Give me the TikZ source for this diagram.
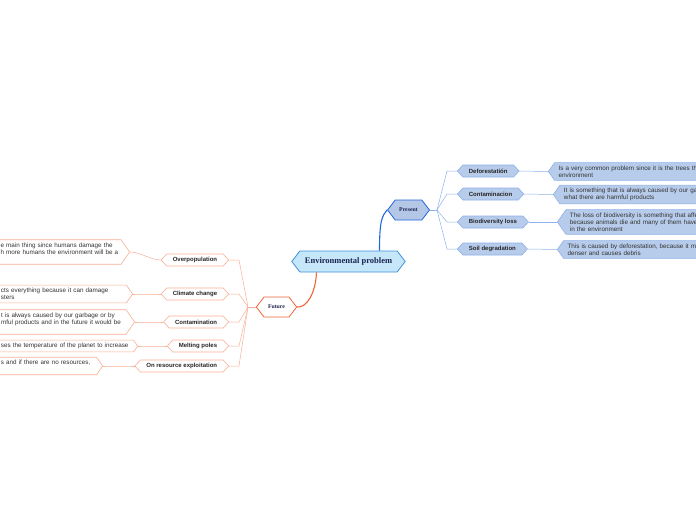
\documentclass[tikz,border=0pt]{standalone}
\usepackage{fontspec}
\setmainfont{Liberation Sans}
\newfontfamily\headfont{Liberation Serif}
\usetikzlibrary{shapes.symbols}

\definecolor{cenfill}{HTML}{C6E7FA}
\definecolor{cenline}{HTML}{3F8FDA}
\definecolor{centext}{HTML}{1B2550}
\definecolor{prefill}{HTML}{B4C7E7}
\definecolor{preline}{HTML}{2266DD}
\definecolor{chfill}{HTML}{B7CBEA}
\definecolor{chline}{HTML}{8DB1EA}
\definecolor{futline}{HTML}{F0643C}
\definecolor{fcline}{HTML}{F9AF95}

\begin{document}
\begin{tikzpicture}[x=1pt,y=-1pt,
  hexa/.style={shape=signal,signal to=east and west,draw},
  maintopic/.style={hexa,signal pointer angle=105,fill=cenfill,draw=cenline,line width=0.8pt,
    minimum height=21,inner xsep=5,inner ysep=0,text=centext,
    font=\headfont\fontsize{8.5}{10}\selectfont\bfseries},
  branch/.style={hexa,signal pointer angle=105,minimum height=20,inner xsep=4,inner ysep=0,
    line width=0.8pt,text=centext,font=\headfont\fontsize{5.8}{7}\selectfont\bfseries},
  subtopic/.style={hexa,signal pointer angle=95,minimum height=12,inner xsep=6,inner ysep=0,
    line width=0.6pt,text=black!85,font=\fontsize{6}{7}\selectfont\bfseries},
  note/.style={shape=signal,signal pointer angle=110,draw,line width=0.6pt,align=left,
    inner xsep=4,inner ysep=3,text=black!80,font=\fontsize{6.3}{7}\selectfont},
  prenote/.style={note,signal to=west,fill=chfill,draw=chline,text width=150},
  futnote/.style={note,signal to=east,fill=white,draw=fcline,anchor=east,inner xsep=2.5},
  prelink/.style={draw=chline,line width=0.5pt},
  futlink/.style={draw=fcline,line width=0.5pt}]
  \useasboundingbox (0,0) rectangle (696,520);
  \clip (0,0) rectangle (696,520);

  \node[maintopic] (cen) at (348.5,261.5) {Environmental problem};
  \node[branch,fill=prefill,draw=preline] (pre) at (408.5,210) {Present};
  \node[branch,fill=white,draw=futline] (fut) at (276.5,307) {Future};

  \draw[preline,line width=1.1pt] ([xshift=31pt]cen.north) .. controls +(0,-30) and +(-5,6) .. (pre.west);
  \draw[futline,line width=1.1pt] ([xshift=-32pt]cen.south) .. controls +(-1,22) and +(9,1) .. (fut.east);

  \node[subtopic,fill=chfill,draw=chline,anchor=west] (def) at (457,171) {Deforestatión};
  \node[subtopic,fill=chfill,draw=chline,anchor=west] (conp) at (457,194) {Contaminacion};
  \node[subtopic,fill=chfill,draw=chline,anchor=west] (bio) at (457,222) {Biodiversity loss};
  \node[subtopic,fill=chfill,draw=chline,anchor=west] (soil) at (457,249) {Soil degradation};

  \node[prenote,anchor=west] (defd) at (548,171.5) {Is a very common problem since it is the trees th\\environment};
  \node[prenote,anchor=west] (conpd) at (553,194.5) {It is something that is always caused by our ga\\what there are harmful products};
  \node[prenote,anchor=west] (biod) at (557,222) {The loss of biodiversity is something that affec\\because animals die and many of them have g\\in the environment};
  \node[prenote,anchor=west] (soild) at (557,249.5) {This is caused by deforestation, because it ma\\denser and causes debris};

  \coordinate (pj) at (437,210);
  \coordinate (px) at (447,210);
  \draw[prelink] (pre.east) -- (pj);
  \foreach \n in {def,conp,bio,soil}
    \draw[prelink] (pj) -- (px |- \n.west) -- (\n.west);
  \foreach \n in {def,conp,bio,soil}
    \draw[prelink] (\n.east) -- (\n d.west);

  \node[subtopic,fill=white,draw=fcline,anchor=east] (ovp) at (229,260) {Overpopulation};
  \node[subtopic,fill=white,draw=fcline,anchor=east] (clim) at (229,294) {Climate change};
  \node[subtopic,fill=white,draw=fcline,anchor=east] (cont) at (229,322) {Contamination};
  \node[subtopic,fill=white,draw=fcline,anchor=east] (melt) at (229,346) {Melting poles};
  \node[subtopic,fill=white,draw=fcline,anchor=east] (res) at (229,366) {On resource exploitation};

  \node[futnote,text width=118] (ovpd) at (130,252) {e main thing since humans damage the\\h more humans the environment will be a\\~};
  \node[futnote,text width=123] (climd) at (133,294) {cts everything because it can damage\\sters};
  \node[futnote,text width=122.5] (contd) at (135,322) {t is always caused by our garbage or by\\mful products and in the future it would be\\~};
  \node[futnote,text width=130] (meltd) at (138,346) {ses the temperature of the planet to increase};
  \node[futnote,text width=93] (resd) at (103,366) {s and if there are no resources,\\~};

  \coordinate (fj) at (248,307);
  \coordinate (fx) at (239,307);
  \draw[futlink] (fut.west) -- (fj);
  \foreach \n in {ovp,clim,cont,melt,res}
    \draw[futlink] (fj) -- (fx |- \n.east) -- (\n.east);
  \foreach \n in {ovp,clim,cont,melt,res}
    \draw[futlink] (\n.west) .. controls +(-10,0) and +(10,0) .. (\n d.east);
\end{tikzpicture}
\end{document}
